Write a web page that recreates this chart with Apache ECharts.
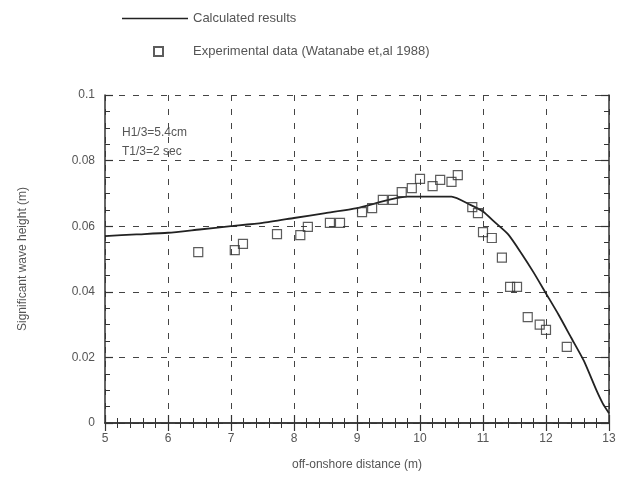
<!DOCTYPE html>
<html>
<head>
<meta charset="utf-8">
<script src="https://cdn.jsdelivr.net/npm/echarts@6/dist/echarts.min.js"></script>
<style>
  html, body { margin: 0; padding: 0; background: #fff; }
  #chart { width: 625px; height: 481px; }
</style>
</head>
<body>
<div id="chart"></div>
<script>
// calculated results (line)
var calcX = [5, 5.5, 6, 6.5, 7, 7.5, 8, 8.5, 9, 9.5, 9.8, 10, 10.3, 10.5, 10.8, 11, 11.2, 11.4, 11.6, 11.8, 12, 12.2, 12.4, 12.6, 12.8, 12.9, 13]
var calcY = [0.057, 0.0575, 0.058, 0.059, 0.060, 0.061, 0.0625, 0.064, 0.0655, 0.068, 0.069, 0.069, 0.069, 0.069, 0.0665, 0.0645, 0.061, 0.0575, 0.052, 0.046, 0.0395, 0.033, 0.026, 0.019, 0.010, 0.006, 0.003]

// experimental data (Watanabe et al. 1988)
var expX = [6.48, 7.06, 7.19, 7.73, 8.1, 8.22, 8.57, 8.73, 9.08, 9.24, 9.41, 9.57, 9.71, 9.87, 10.0, 10.2, 10.32, 10.5, 10.6, 10.83, 10.92, 11.0, 11.14, 11.3, 11.43, 11.54, 11.71, 11.9, 12.0, 12.33]
var expY = [0.0521, 0.0527, 0.0546, 0.0576, 0.0573, 0.0598, 0.061, 0.061, 0.0643, 0.0655, 0.068, 0.068, 0.0704, 0.0716, 0.0744, 0.0722, 0.0741, 0.0735, 0.0756, 0.0658, 0.064, 0.0582, 0.0564, 0.0504, 0.0415, 0.0415, 0.0323, 0.030, 0.0284, 0.0232]

var seriesNames = ['Calculated results', 'Experimental data (Watanabe et,al 1988)']
var notes = ['H1/3=5.4cm', 'T1/3=2 sec']

var textColor = '#555'
var lineColor = '#333'
var fontFamily = 'Liberation Sans, Arial, sans-serif'

function zip(xs, ys) {
  return xs.map(function(x, i) { return [x, ys[i]] })
}

var chart = echarts.init(document.getElementById('chart'))

// 坐标轴公共样式
var axisCommon = {
  axisLine: { show: true, lineStyle: { color: lineColor, width: 1.5 } },
  axisTick: { show: true, inside: true, length: 8, lineStyle: { color: lineColor, width: 1.2 } },
  minorTick: { show: true, length: 5, lineStyle: { color: lineColor, width: 1 } },
  axisLabel: { color: textColor, fontSize: 12, fontFamily: fontFamily },
  splitLine: { show: false }
}

var dashGrid = { show: true, lineStyle: { color: '#444', width: 1, type: [6, 8] } }

chart.setOption({
  animation: false,
  backgroundColor: '#fff',
  textStyle: { fontFamily: fontFamily },
  grid: { left: 105, right: 16, top: 95, bottom: 58 },
  legend: [{
    data: [{ name: seriesNames[0], icon: 'rect' }],
    left: 117,
    top: 7,
    itemWidth: 66,
    itemHeight: 1.5,
    textStyle: { color: textColor, fontSize: 13, fontFamily: fontFamily }
  }, {
    data: [seriesNames[1]],
    left: 148,
    top: 40,
    itemWidth: 9,
    itemHeight: 9,
    formatter: '{a|{name}}',
    textStyle: {
      color: textColor, fontSize: 13, fontFamily: fontFamily,
      rich: { a: { color: textColor, fontSize: 13, fontFamily: fontFamily, padding: [0, 0, 0, 25] } }
    }
  }],
  xAxis: [
    Object.assign({}, axisCommon, {
      type: 'value', min: 5, max: 13, interval: 1,
      position: 'bottom',
      minorTick: Object.assign({}, axisCommon.minorTick, { splitNumber: 5 }),
      axisLabel: Object.assign({}, axisCommon.axisLabel, { margin: 10 }),
      splitLine: dashGrid,
      name: 'off-onshore distance (m)',
      nameLocation: 'middle',
      nameGap: 36,
      nameTextStyle: { color: textColor, fontSize: 12, fontFamily: fontFamily }
    }),
    Object.assign({}, axisCommon, {
      type: 'value', min: 5, max: 13, interval: 1,
      position: 'top',
      minorTick: Object.assign({}, axisCommon.minorTick, { splitNumber: 5 }),
      axisLabel: { show: false }
    })
  ],
  yAxis: [
    Object.assign({}, axisCommon, {
      type: 'value', min: 0, max: 0.1, interval: 0.02,
      position: 'left',
      minorTick: Object.assign({}, axisCommon.minorTick, { splitNumber: 4 }),
      axisLabel: Object.assign({}, axisCommon.axisLabel, { margin: 10 }),
      splitLine: dashGrid,
      name: 'Significant wave height (m)',
      nameLocation: 'middle',
      nameGap: 76,
      nameTextStyle: { color: textColor, fontSize: 12, fontFamily: fontFamily }
    }),
    Object.assign({}, axisCommon, {
      type: 'value', min: 0, max: 0.1, interval: 0.02,
      position: 'right',
      minorTick: Object.assign({}, axisCommon.minorTick, { splitNumber: 4 }),
      axisLabel: { show: false }
    })
  ],
  graphic: [{
    type: 'text', left: 122, top: 127,
    style: { text: notes[0], fill: textColor, fontSize: 12, fontFamily: fontFamily }
  }, {
    type: 'text', left: 122, top: 146,
    style: { text: notes[1], fill: textColor, fontSize: 12, fontFamily: fontFamily }
  }],
  series: [{
    name: seriesNames[0],
    type: 'line',
    data: zip(calcX, calcY),
    symbol: 'none',
    smooth: 0.2,
    lineStyle: { color: '#222', width: 1.8 },
    itemStyle: { color: '#222' },
    z: 3
  }, {
    name: seriesNames[1],
    type: 'scatter',
    data: zip(expX, expY),
    symbol: 'rect',
    symbolSize: 9,
    itemStyle: { color: 'rgba(0,0,0,0)', borderColor: '#333', borderWidth: 1.2 },
    z: 4
  }]
})
</script>
</body>
</html>
